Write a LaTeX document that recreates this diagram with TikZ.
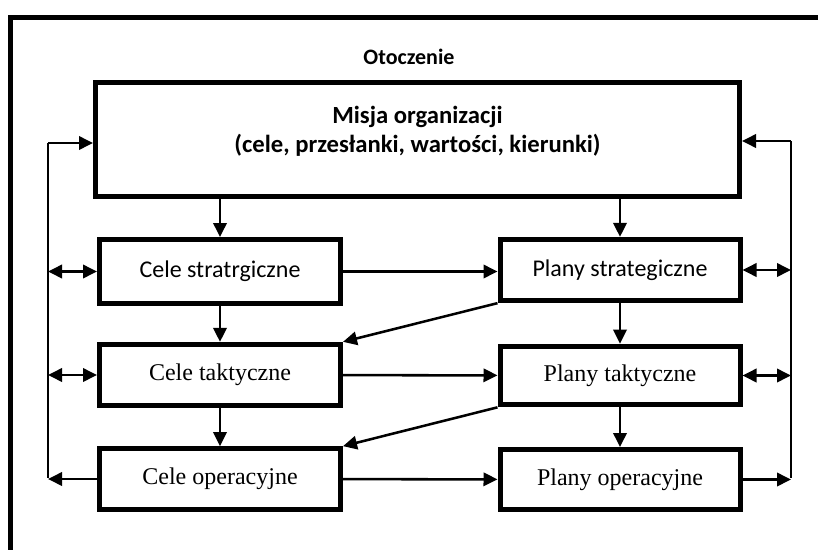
\documentclass[tikz,border=0pt]{standalone}
\usepackage{fontspec}
\setmainfont{Liberation Serif}
\newfontfamily\calibri{Carlito}
\usetikzlibrary{arrows.meta}
\tikzstyle{block} = [draw, line width=3.75pt, inner sep=0pt,
    minimum width=180.75pt, minimum height=46pt,
    font=\fontsize{18}{21}\selectfont]
\tikzstyle{sansblock} = [block, font=\calibri\fontsize{18}{21}\selectfont]
\tikzstyle{arr} = [line width=1.9pt, -{Triangle[length=10.5pt, width=10pt]}]
\tikzstyle{twoarr} = [line width=1.9pt, {Triangle[length=10.5pt, width=10pt]}-{Triangle[length=10.5pt, width=10pt]}]
\tikzstyle{loop} = [line width=1.1pt]

\begin{document}
\begin{tikzpicture}[x=0.75pt, y=-0.75pt] % one unit = one pixel of the reference
    \useasboundingbox (0,0) rectangle (818,550);
    \clip (0,0) rectangle (818,550);
    % frame of the environment
    \draw[line width=3.75pt] (10,570) -- (10,17) -- (840,17);
    \node[font=\calibri\bfseries\fontsize{16.5}{19}\selectfont] (env) at (409,57) {Otoczenie};

    % mission
    \node[block, minimum width=483pt, minimum height=85.5pt] (mission) at (417.5,139.5) {};
    \node[font=\calibri\bfseries\fontsize{18.5}{22}\selectfont, align=center]
        (missionText) at ([yshift=6pt]mission.center) {Misja organizacji\\(cele, przesłanki, wartości, kierunki)};

    % goals and plans
    \node[sansblock, minimum height=48pt] (goalS) at (220,271.5) {Cele stratrgiczne};
    \node[sansblock, minimum width=180pt, minimum height=46pt] (planS) at (620,270) {Plany strategiczne};
    \node[block] (goalT) at (220,375) {Cele taktyczne};
    \node[block, minimum width=180pt, minimum height=44pt] (planT) at (620,375.5) {Plany taktyczne};
    \node[block, minimum height=45.5pt] (goalO) at (220,479) {Cele operacyjne};
    \node[block, minimum width=180pt, minimum height=45pt] (planO) at (620,479.5) {Plany operacyjne};

    % downward arrows
    \draw[arr] (mission.south -| goalS.north) -- (goalS.north);
    \draw[arr] (mission.south -| planS.north) -- (planS.north);
    \draw[arr] (goalS) -- (goalT);
    \draw[arr] (planS) -- (planT);
    \draw[arr] (goalT) -- (goalO);
    \draw[arr] (planT) -- (planO);

    % goals to plans
    \draw[arr] (goalS) -- (planS.west |- goalS);
    \draw[arr] (goalT) -- (planT);
    \draw[arr] (goalO) -- (planO);
    \draw[arr] (planS.south west) -- (goalT.north east);
    \draw[arr] (planT.south west) -- (goalO.north east);

    % feedback on the left
    \coordinate (lTop) at (48,143);
    \coordinate (lBot) at (48,478);
    \draw[loop] (lTop) -- (lBot);
    \draw[arr] (lTop) -- (lTop -| mission.west);
    \draw[twoarr] (goalS.west -| lTop) -- (goalS.west);
    \draw[twoarr] (goalT.west -| lTop) -- (goalT.west);
    \draw[arr] (goalO.west) -- (goalO.west -| lTop);

    % feedback on the right
    \coordinate (rTop) at (791,141);
    \coordinate (rBot) at (791,478);
    \draw[loop] (rTop) -- (rBot);
    \draw[arr] (rTop) -- (rTop -| mission.east);
    \draw[twoarr] (planS.east) -- (planS.east -| rTop);
    \draw[twoarr] (planT.east) -- (planT.east -| rTop);
    \draw[arr] (planO.east) -- (planO.east -| rTop);
\end{tikzpicture}
\end{document}
